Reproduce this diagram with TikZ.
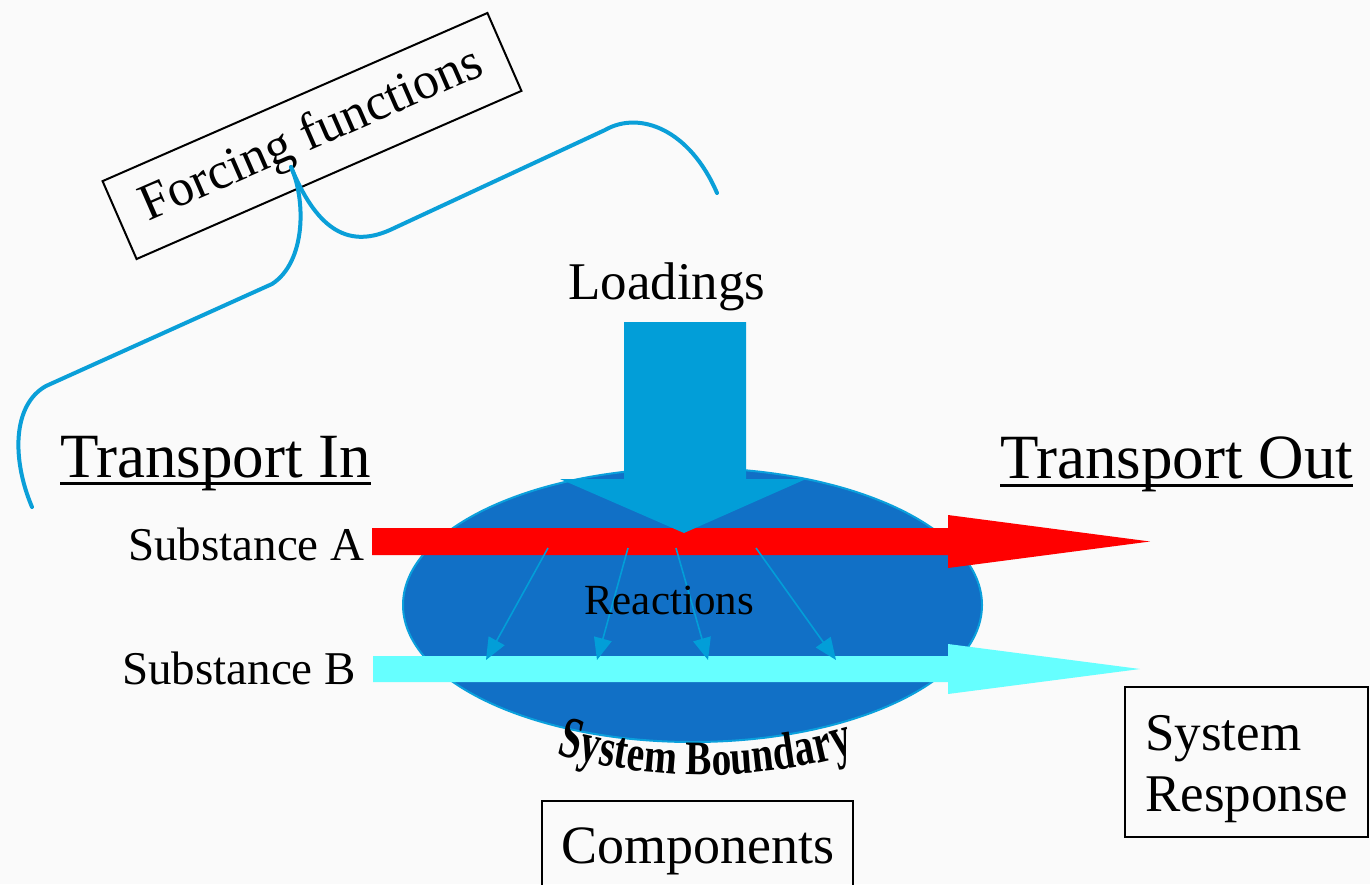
\documentclass[tikz,border=0pt]{standalone}
\usepackage{fontspec}
\newfontfamily\lib{Liberation Serif}
\usetikzlibrary{arrows.meta,shapes.geometric}
\definecolor{bg}{RGB}{250,250,250}
\definecolor{ellfill}{RGB}{17,112,198}
\definecolor{ellline}{RGB}{10,160,220}
\definecolor{loadblue}{RGB}{2,158,216}
\definecolor{lineblue}{RGB}{10,159,216}
\definecolor{subA}{RGB}{255,0,0}
\definecolor{subB}{RGB}{102,255,255}
\begin{document}
\begin{tikzpicture}[x=1pt,y=-1pt,
  lbl/.style={inner sep=0pt, anchor=base west},
  boxed/.style={draw=black, line width=2pt},
  forceline/.style={draw=lineblue, line width=4pt, line cap=round},
  react/.style={draw=loadblue, line width=1.6pt, -{Triangle[length=22pt,width=18pt]}},
  uline/.style={draw=black, line width=3pt},
]
\fill[bg] (0,0) rectangle (1370,884);
\useasboundingbox (0,0) rectangle (1370,884);

% system ellipse
\node[ellipse, fill=ellfill, draw=ellline, line width=2pt, minimum width=579pt, minimum height=274pt, inner sep=0pt] (sys) at (692.5,605) {};

% substance arrows
\fill[subA] (372,528) -- (948,528) -- (948,515) -- (1150,541.5) -- (948,568) -- (948,555) -- (372,555) -- cycle;
\fill[subB] (373,656) -- (948,656) -- (948,644) -- (1140,669) -- (948,694) -- (948,682) -- (373,682) -- cycle;

% loadings arrow
\fill[loadblue] (624,322) -- (746,322) -- (746,479) -- (806,479) -- (684,533) -- (560,479) -- (624,479) -- cycle;

% reaction arrows
\coordinate (r1s) at (548,548); \coordinate (r1e) at (486,660);
\coordinate (r2s) at (628,548); \coordinate (r2e) at (597,660);
\coordinate (r3s) at (676,548); \coordinate (r3e) at (708,660);
\coordinate (r4s) at (756,548); \coordinate (r4e) at (836,660);
\draw[react] (r1s) -- (r1e);
\draw[react] (r2s) -- (r2e);
\draw[react] (r3s) -- (r3e);
\draw[react] (r4s) -- (r4e);

% labels
\node[lbl, font=\lib\fontsize{63}{63}\selectfont] (tin) at (60,477) {Transport In};
\draw[uline] ([yshift=-6pt]tin.base west) -- ([yshift=-6pt]tin.base east);
\node[lbl, font=\lib\fontsize{63}{63}\selectfont] (tout) at (1000,478) {Transport Out};
\draw[uline] ([yshift=-7pt]tout.base west) -- ([yshift=-7pt]tout.base east);
\node[lbl, font=\lib\fontsize{53}{53}\selectfont] (load) at (568,299) {Loadings};
\node[lbl, font=\lib\fontsize{47}{47}\selectfont] (sa) at (128,560) {Substance A};
\node[lbl, font=\lib\fontsize{47}{47}\selectfont] (sb) at (122,684) {Substance B};
\node[lbl, font=\lib\fontsize{43}{43}\selectfont] (react) at (584,614) {Reactions};

% system boundary (arched word art, letter by letter)
\foreach \c/\x [count=\i] in {S/566.6, y/587.4, s/605.0, t/619.2, e/634.5, m/659.6, B/699.0, o/722.0, u/742.8, n/764.7, d/786.6, a/807.4, r/826.0, y/844.7} {
  \pgfmathsetmacro\dd{(\x-705)/100}
  \pgfmathsetmacro\yy{775-9.5*\dd*\dd}
  \pgfmathsetmacro\rr{atan(0.19*\dd)}
  \pgfmathsetmacro\ss{1+0.12*\dd*\dd}
  \node[inner sep=0pt, anchor=base, font=\lib\bfseries\fontsize{48}{48}\selectfont, rotate=\rr, xscale=0.82, yscale=\ss] (sbl\i) at (\x,\yy) {\c};
}

% boxes
\node[boxed, minimum width=311pt, minimum height=100pt, anchor=north, font=\lib\fontsize{54}{54}\selectfont, inner sep=0pt] (comp) at (697.5,800) {\raisebox{9pt}{Components}};
\node[boxed, minimum width=243pt, minimum height=150pt, inner sep=0pt] (resp) at (1246.5,762) {};
\node[lbl, font=\lib\fontsize{53}{53}\selectfont] (resp1) at (1145,750) {System};
\node[lbl, font=\lib\fontsize{53}{53}\selectfont] (resp2) at (1145,811) {Response};

% forcing functions
\node[boxed, rotate=23.6, minimum width=420pt, minimum height=85pt, font=\lib\fontsize{52}{52}\selectfont, inner sep=0pt] (force) at (312,136) {Forcing functions};
\coordinate (fj) at (291,167);
\coordinate (fl) at (32,507);
\coordinate (fr) at (717,193);
\draw[forceline] (fj) .. controls (306,200) and (306,262) .. (272,284) -- (46,386) .. controls (12,405) and (12,460) .. (fl);
\draw[forceline] (fj) .. controls (315,225) and (345,250) .. (390,230) -- (605,130) .. controls (640,110) and (690,130) .. (fr);
\end{tikzpicture}
\end{document}
